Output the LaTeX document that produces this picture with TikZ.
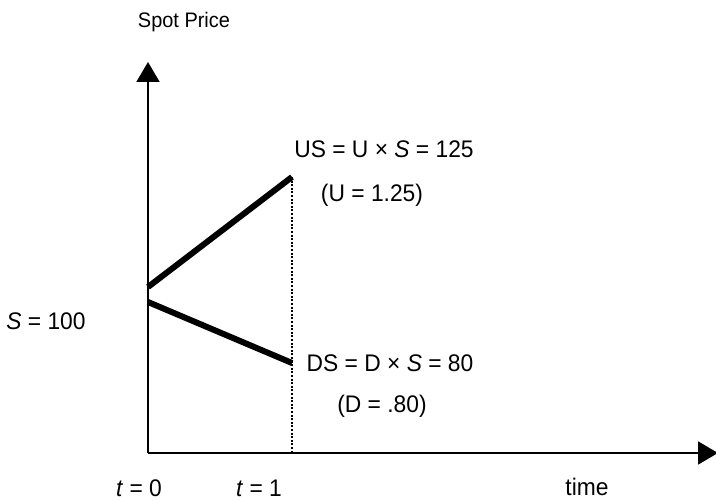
\documentclass[tikz,border=0pt]{standalone}
\usepackage{fontspec}
\setmainfont[FakeStretch=0.95]{Liberation Sans}
\usepackage{tikz}
\usetikzlibrary{arrows.meta}

\begin{document}
\begin{tikzpicture}[x=1pt,y=-1pt,
    every node/.style={inner sep=0pt,anchor=base,font=\fontsize{24}{28}\selectfont},
    axis/.style={line width=1.9pt},
    path/.style={line width=6pt},
    >={Triangle[length=20pt,width=23pt]}]
    \useasboundingbox (0,0) rectangle (716,502);
    % axes
    \coordinate (o) at (148,453);
    \coordinate (ytop) at (148,62);
    \coordinate (xend) at (718,453);
    \draw[axis,->] (o) -- (ytop);
    \draw[axis,->] (o) -- (xend);
    % price paths
    \coordinate (su0) at (148,287);
    \coordinate (su1) at (292,177);
    \coordinate (sd0) at (148,302);
    \coordinate (sd1) at (292,363);
    \coordinate (t1) at (292,453);
    \draw[path] (su0) -- (su1);
    \draw[path] (sd0) -- (sd1);
    \draw[line width=2.2pt,dash pattern=on 2pt off 1.6pt] (su1) -- (t1);
    % labels
    \node[font=\fontsize{21}{25}\selectfont] (spot) at (184,28) {Spot Price};
    \node (us) at (384,158) {US = U × \textit{S} = 125};
    \node (u) at (372,202) {(U = 1.25)};
    \node (s) at (46,330) {\textit{S} = 100};
    \node (ds) at (390,372) {DS = D × \textit{S} = 80};
    \node (d) at (382,413) {(D = .80)};
    \node (t0) at (139,497) {\textit{t} = 0};
    \node (t1lbl) at (259,497) {\textit{t} = 1};
    \node (time) at (587,496) {time};
\end{tikzpicture}
\end{document}
